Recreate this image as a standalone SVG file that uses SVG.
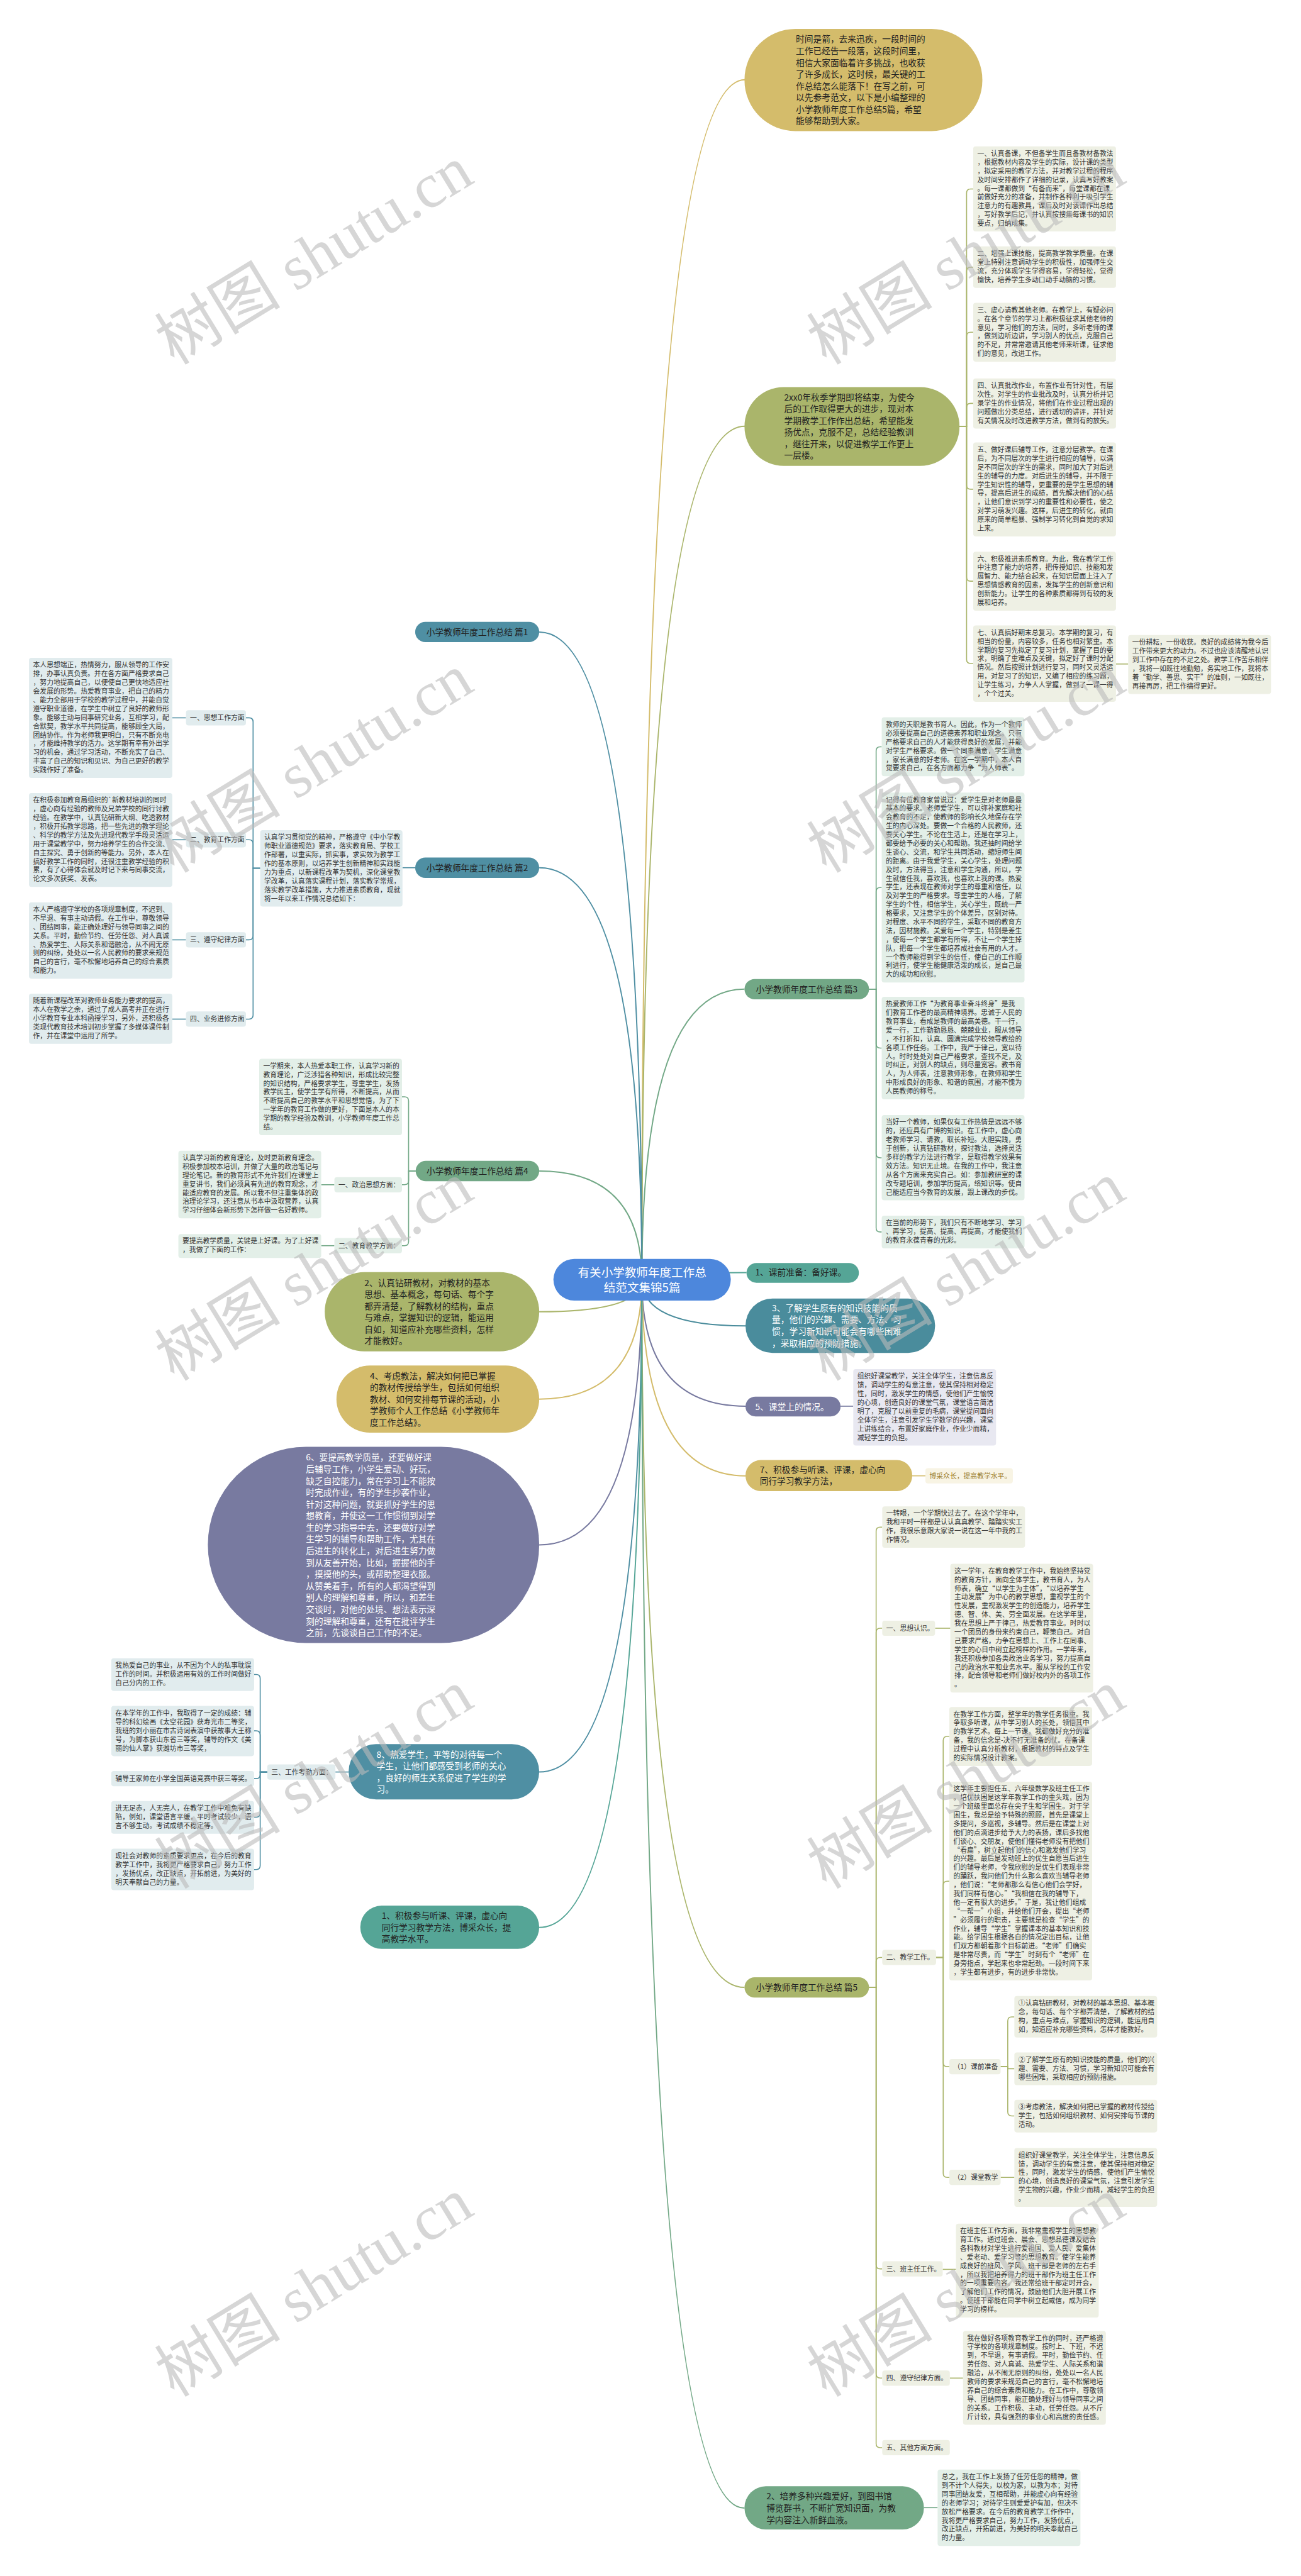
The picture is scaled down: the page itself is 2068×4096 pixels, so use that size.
<svg xmlns="http://www.w3.org/2000/svg" width="2068" height="4096" viewBox="0 0 2068 4096">
<style>
.t{font-family:"Noto Sans CJK SC","Noto Sans",sans-serif;font-size:13.4px;fill:#333}
.n{font-family:"Noto Sans CJK SC","Noto Sans",sans-serif;font-size:17px;fill:#222}
.w{fill:#fff}
.bo{fill:#EEF0E4}
.bg{fill:#E3EFE8}
.bb{fill:#E1ECEE}
.bp{fill:#E8E8F1}
.by{fill:#F8F4E4}
.l{fill:none;stroke-width:2}
.m{fill:none;stroke-width:2.5}
.c1{stroke:#D4BC6B}.c2{stroke:#AAB56B}.c3{stroke:#72A886}.c4{stroke:#4F8FA3}.c5{stroke:#55A596}.c6{stroke:#4A8C9C}.c7{stroke:#787AA0}
.wm{font-family:"Liberation Serif","Noto Sans CJK SC",serif;font-size:124px;fill:#bbb;opacity:.6}
</style>
<rect width="2068" height="4096" fill="#fff"/>
<g transform="scale(0.8078)">
<g id="connectors">
<path class="m c1" d="M1263 2519Q1263 157 1466 157"/>
<path class="m c2" d="M1263 2519Q1263 839 1466 839"/>
<path class="m c3" d="M1263 2519Q1263 1947 1465 1947"/>
<path class="m c5" d="M1263 2519Q1263 2505 1469 2505"/>
<path class="m c6" d="M1263 2519Q1263 2610 1467 2610"/>
<path class="m c7" d="M1263 2519Q1263 2768 1467 2768"/>
<path class="m c1" d="M1263 2519Q1263 2905 1467 2905"/>
<path class="m c2" d="M1263 2519Q1263 3912 1465 3912"/>
<path class="m c3" d="M1263 2519Q1263 4937 1465 4937"/>
<path class="m c4" d="M1263 2519Q1263 1244 1061 1244"/>
<path class="m c4" d="M1263 2519Q1263 1708 1061 1708"/>
<path class="m c3" d="M1263 2519Q1263 2305 1061 2305"/>
<path class="m c2" d="M1263 2519Q1263 2582 1061 2582"/>
<path class="m c1" d="M1263 2519Q1263 2754 1061 2754"/>
<path class="m c7" d="M1263 2519Q1263 3041 1061 3041"/>
<path class="m c4" d="M1263 2519Q1263 3488 1061 3488"/>
<path class="m c5" d="M1263 2519Q1263 3794 1061 3794"/>
<g class="l c2">
<path d="M1888 839H1902V380Q1902 372 1910 372H1915"/>
<path d="M1888 839H1902V534Q1902 526 1910 526H1915"/>
<path d="M1888 839H1902V662Q1902 654 1910 654H1915"/>
<path d="M1888 839H1902V802Q1902 794 1910 794H1915"/>
<path d="M1888 839H1902V955Q1902 963 1910 963H1915"/>
<path d="M1888 839H1902V1136Q1902 1144 1910 1144H1915"/>
<path d="M1888 839H1902V1298Q1902 1306 1910 1306H1915"/>
<path d="M2196 1307H2220"/>
<path d="M1710 3912H1724V3014Q1724 3006 1732 3006H1736"/>
<path d="M1710 3912H1724V3213Q1724 3205 1732 3205H1736"/>
<path d="M1710 3912H1724V3861Q1724 3853 1732 3853H1736"/>
<path d="M1710 3912H1724V4458Q1724 4466 1732 4466H1736"/>
<path d="M1710 3912H1724V4673Q1724 4681 1732 4681H1736"/>
<path d="M1710 3912H1724V4810Q1724 4818 1732 4818H1736"/>
<path d="M1840 3205H1870"/>
<path d="M1842 3853H1856V3426Q1856 3418 1864 3418H1868"/>
<path d="M1842 3853H1856V3711Q1856 3703 1864 3703H1868"/>
<path d="M1842 3853H1856V4060Q1856 4068 1864 4068H1868"/>
<path d="M1842 3853H1856V4278Q1856 4286 1864 4286H1868"/>
<path d="M1969 4068H1983V3978Q1983 3970 1991 3970H1996"/>
<path d="M1969 4068H1983V4072H1996"/>
<path d="M1969 4068H1983V4157Q1983 4165 1991 4165H1996"/>
<path d="M1969 4286H1996"/>
<path d="M1855 4467H1881"/>
<path d="M1869 4681H1895"/>
</g>
<g class="l c3">
<path d="M1710 1947H1724V1478Q1724 1470 1732 1470H1735"/>
<path d="M1710 1947H1724V1755Q1724 1747 1732 1747H1735"/>
<path d="M1710 1947H1724V2055Q1724 2063 1732 2063H1735"/>
<path d="M1710 1947H1724V2271Q1724 2279 1732 2279H1735"/>
<path d="M1710 1947H1724V2417Q1724 2425 1732 2425H1735"/>
<path d="M1818 4936H1845"/>
<path d="M818 2305H804V2167Q804 2159 796 2159H791"/>
<path d="M818 2305H804V2324Q804 2332 796 2332H791"/>
<path d="M818 2305H804V2444Q804 2452 796 2452H791"/>
<path d="M658 2332H632"/>
<path d="M658 2452H632"/>
</g>
<path class="l c7" d="M1654 2768H1679"/>
<path class="l c1" d="M1795 2905H1821"/>
<g class="l c4">
<path d="M817 1708H792"/>
<path d="M512 1709H498V1421Q498 1413 490 1413H484"/>
<path d="M512 1709H498V1661Q498 1653 490 1653H484"/>
<path d="M512 1709H498V1842Q498 1850 490 1850H484"/>
<path d="M512 1709H498V1998Q498 2006 490 2006H484"/>
<path d="M366 1413H339"/>
<path d="M366 1653H339"/>
<path d="M366 1850H339"/>
<path d="M366 2006H339"/>
<path d="M686 3488H660"/>
<path d="M526 3488H512V3304Q512 3296 504 3296H500"/>
<path d="M526 3488H512V3415Q512 3407 504 3407H500"/>
<path d="M526 3488H512V3493Q512 3501 504 3501H500"/>
<path d="M526 3488H512V3569Q512 3577 504 3577H500"/>
<path d="M526 3488H512V3672Q512 3680 504 3680H500"/>
</g>
</g>

<g id="center"><rect x="1089" y="2478" width="349" height="82" rx="41" fill="#4D87DC"/>
<text x="1263.5" y="2513" text-anchor="middle" style="font-family:'Noto Sans CJK SC',sans-serif;font-size:23px;fill:#fff"><tspan x="1263.5">有关小学教师年度工作总</tspan><tspan x="1263.5" dy="30">结范文集锦5篇</tspan></text></g>

<g id="intro"><rect x="1465" y="57" width="468" height="201" rx="100" fill="#D4BC6B"/>
<text class="n" x="1566" y="83.5"><tspan x="1566">时间是箭，去来迅疾，一段时间的</tspan><tspan x="1566" dy="23">工作已经告一段落，这段时间里，</tspan><tspan x="1566" dy="23">相信大家面临着许多挑战，也收获</tspan><tspan x="1566" dy="23">了许多成长，这时候，最关键的工</tspan><tspan x="1566" dy="23">作总结怎么能落下！在写之前，可</tspan><tspan x="1566" dy="23">以先参考范文，以下是小编整理的</tspan><tspan x="1566" dy="23">小学教师年度工作总结5篇，希望</tspan><tspan x="1566" dy="23">能够帮助到大家。</tspan></text></g>

<g id="autumn"><rect x="1465" y="762" width="423" height="155" rx="77" fill="#AAB56B"/>
<text class="n" x="1543" y="788"><tspan x="1543">2xx0年秋季学期即将结束，为使今</tspan><tspan x="1543" dy="23">后的工作取得更大的进步，现对本</tspan><tspan x="1543" dy="23">学期教学工作作出总结，希望能发</tspan><tspan x="1543" dy="23">扬优点，克服不足，总结经验教训</tspan><tspan x="1543" dy="23">，继往开来，以促进教学工作更上</tspan><tspan x="1543" dy="23">一层楼。</tspan></text></g>

<g id="r1"><rect class="bo" x="1915" y="288" width="281" height="167.6" rx="5"/>
<text class="t" x="1923" y="307"><tspan x="1923">一、认真备课，不但备学生而且备教材备教法</tspan><tspan x="1923" dy="17.2">，根据教材内容及学生的实际，设计课的类型</tspan><tspan x="1923" dy="17.2">，拟定采用的教学方法，并对教学过程的程序</tspan><tspan x="1923" dy="17.2">及时间安排都作了详细的记录，认真写好教案</tspan><tspan x="1923" dy="17.2">。每一课都做到“有备而来”，每堂课都在课</tspan><tspan x="1923" dy="17.2">前做好充分的准备，并制作各种利于吸引学生</tspan><tspan x="1923" dy="17.2">注意力的有趣教具，课后及时对该课作出总结</tspan><tspan x="1923" dy="17.2">，写好教学后记，并认真按搜集每课书的知识</tspan><tspan x="1923" dy="17.2">要点，归纳成集。</tspan></text></g>
<g id="r2"><rect class="bo" x="1915" y="485" width="281" height="81.6" rx="5"/>
<text class="t" x="1923" y="504"><tspan x="1923">二、增强上课技能，提高教学教学质量。在课</tspan><tspan x="1923" dy="17.2">堂上特别注意调动学生的积极性，加强师生交</tspan><tspan x="1923" dy="17.2">流，充分体现学生学得容易，学得轻松，觉得</tspan><tspan x="1923" dy="17.2">愉快，培养学生多动口动手动脑的习惯。</tspan></text></g>
<g id="r3"><rect class="bo" x="1915" y="596" width="281" height="116" rx="5"/>
<text class="t" x="1923" y="615"><tspan x="1923">三、虚心请教其他老师。在教学上，有疑必问</tspan><tspan x="1923" dy="17.2">。在各个章节的学习上都积极征求其他老师的</tspan><tspan x="1923" dy="17.2">意见，学习他们的方法，同时，多听老师的课</tspan><tspan x="1923" dy="17.2">，做到边听边讲，学习别人的优点，克服自己</tspan><tspan x="1923" dy="17.2">的不足，并常常邀请其他老师来听课，征求他</tspan><tspan x="1923" dy="17.2">们的意见，改进工作。</tspan></text></g>
<g id="r4"><rect class="bo" x="1915" y="745" width="281" height="98.8" rx="5"/>
<text class="t" x="1923" y="764"><tspan x="1923">四、认真批改作业，布置作业有针对性，有层</tspan><tspan x="1923" dy="17.2">次性。对学生的作业批改及时，认真分析并记</tspan><tspan x="1923" dy="17.2">录学生的作业情况，将他们在作业过程出现的</tspan><tspan x="1923" dy="17.2">问题做出分类总结，进行透切的讲评，并针对</tspan><tspan x="1923" dy="17.2">有关情况及时改进教学方法，做到有的放矢。</tspan></text></g>
<g id="r5"><rect class="bo" x="1915" y="871" width="281" height="184.8" rx="5"/>
<text class="t" x="1923" y="890"><tspan x="1923">五、做好课后辅导工作，注意分层教学。在课</tspan><tspan x="1923" dy="17.2">后，为不同层次的学生进行相应的辅导，以满</tspan><tspan x="1923" dy="17.2">足不同层次的学生的需求，同时加大了对后进</tspan><tspan x="1923" dy="17.2">生的辅导的力度。对后进生的辅导，并不限于</tspan><tspan x="1923" dy="17.2">学生知识性的辅导，更重要的是学生思想的辅</tspan><tspan x="1923" dy="17.2">导，提高后进生的成绩，首先解决他们的心结</tspan><tspan x="1923" dy="17.2">，让他们意识到学习的重要性和必要性，使之</tspan><tspan x="1923" dy="17.2">对学习萌发兴趣。这样，后进生的转化，就由</tspan><tspan x="1923" dy="17.2">原来的简单粗暴、强制学习转化到自觉的求知</tspan><tspan x="1923" dy="17.2">上来。</tspan></text></g>
<g id="r6"><rect class="bo" x="1915" y="1086" width="281" height="116" rx="5"/>
<text class="t" x="1923" y="1105"><tspan x="1923">六、积极推进素质教育。为此，我在教学工作</tspan><tspan x="1923" dy="17.2">中注意了能力的培养，把传授知识、技能和发</tspan><tspan x="1923" dy="17.2">展智力、能力结合起来，在知识层面上注入了</tspan><tspan x="1923" dy="17.2">思想情感教育的因素，发挥学生的创新意识和</tspan><tspan x="1923" dy="17.2">创新能力。让学生的各种素质都得到有较的发</tspan><tspan x="1923" dy="17.2">展和培养。</tspan></text></g>
<g id="r7"><rect class="bo" x="1915" y="1231" width="281" height="150.4" rx="5"/>
<text class="t" x="1923" y="1250"><tspan x="1923">七、认真搞好期末总复习。本学期的复习，有</tspan><tspan x="1923" dy="17.2">相当的份量，内容较多，任务也相对繁重。本</tspan><tspan x="1923" dy="17.2">学期的复习先拟定了复习计划，掌握了目的要</tspan><tspan x="1923" dy="17.2">求，明确了重难点及关键，拟定好了课时分配</tspan><tspan x="1923" dy="17.2">情况。然后按照计划进行复习，同时又灵活运</tspan><tspan x="1923" dy="17.2">用，对复习了的知识，又编了相应的练习题，</tspan><tspan x="1923" dy="17.2">让学生练习，力争人人掌握，做到了一课一得</tspan><tspan x="1923" dy="17.2">，个个过关。</tspan></text></g>
<g id="r8"><rect class="bo" x="2220" y="1250" width="281" height="116" rx="5"/>
<text class="t" x="2228" y="1269"><tspan x="2228">一份耕耘，一份收获。良好的成绩将为我今后</tspan><tspan x="2228" dy="17.2">工作带来更大的动力。不过也应该清醒地认识</tspan><tspan x="2228" dy="17.2">到工作中存在的不足之处。教学工作苦乐相伴</tspan><tspan x="2228" dy="17.2">，我将一如既往地勤勉，务实地工作，我将本</tspan><tspan x="2228" dy="17.2">着“勤学、善思、实干”的准则，一如既往，</tspan><tspan x="2228" dy="17.2">再接再厉，把工作搞得更好。</tspan></text></g>

<g id="p1"><rect x="817" y="1224" width="244" height="40" rx="20" fill="#4F8FA3"/><text class="n" x="939" y="1250" text-anchor="middle">小学教师年度工作总结 篇1</text></g>
<g id="p2"><rect x="817" y="1688" width="244" height="40" rx="20" fill="#4F8FA3"/><text class="n" x="939" y="1714" text-anchor="middle">小学教师年度工作总结 篇2</text></g>
<g id="p3"><rect x="1465" y="1927" width="245" height="40" rx="20" fill="#72A886"/><text class="n" x="1587.5" y="1953" text-anchor="middle">小学教师年度工作总结 篇3</text></g>
<g id="p4"><rect x="818" y="2285" width="243" height="40" rx="20" fill="#72A886"/><text class="n" x="939.5" y="2311" text-anchor="middle">小学教师年度工作总结 篇4</text></g>
<g id="p5"><rect x="1465" y="3892" width="245" height="40" rx="20" fill="#A9B56A"/><text class="n" x="1587.5" y="3918" text-anchor="middle">小学教师年度工作总结 篇5</text></g>

<g id="p2-intro"><rect class="bb" x="512" y="1634" width="280" height="150.4" rx="5"/>
<text class="t" x="520" y="1653"><tspan x="520">认真学习贯彻党的精神，严格遵守《中小学教</tspan><tspan x="520" dy="17.2">师职业道德规范》要求，落实教育局、学校工</tspan><tspan x="520" dy="17.2">作部署，以重实际，抓实事，求实效为教学工</tspan><tspan x="520" dy="17.2">作的基本原则，以培养学生创新精神和实践能</tspan><tspan x="520" dy="17.2">力为重点，以新课程改革为契机，深化课堂教</tspan><tspan x="520" dy="17.2">学改革，认真落实课程计划，落实教学常规，</tspan><tspan x="520" dy="17.2">落实教学改革措施，大力推进素质教育，现就</tspan><tspan x="520" dy="17.2">将一年以来工作情况总结如下：</tspan></text></g>
<g id="p2-l1"><rect class="bb" x="366" y="1398" width="118" height="30" rx="5"/><text class="t" x="374" y="1418">一、思想工作方面</text></g>
<g id="p2-l2"><rect class="bb" x="366" y="1638" width="118" height="30" rx="5"/><text class="t" x="374" y="1658">二、教育工作方面</text></g>
<g id="p2-l3"><rect class="bb" x="366" y="1835" width="118" height="30" rx="5"/><text class="t" x="374" y="1855">三、遵守纪律方面</text></g>
<g id="p2-l4"><rect class="bb" x="366" y="1991" width="118" height="30" rx="5"/><text class="t" x="374" y="2011">四、业务进修方面</text></g>
<g id="p2-b1"><rect class="bb" x="57" y="1295" width="282" height="236.4" rx="5"/>
<text class="t" x="65" y="1314"><tspan x="65">本人思想端正，热情努力，服从领导的工作安</tspan><tspan x="65" dy="17.2">排，办事认真负责。并在各方面严格要求自己</tspan><tspan x="65" dy="17.2">，努力地提高自己，以便使自己更快地适应社</tspan><tspan x="65" dy="17.2">会发展的形势。热爱教育事业，把自己的精力</tspan><tspan x="65" dy="17.2">、能力全部用于学校的教学过程中，并能自觉</tspan><tspan x="65" dy="17.2">遵守职业道德，在学生中树立了良好的教师形</tspan><tspan x="65" dy="17.2">象。能够主动与同事研究业务，互相学习，配</tspan><tspan x="65" dy="17.2">合默契，教学水平共同提高，能够顾全大局，</tspan><tspan x="65" dy="17.2">团结协作。作为老师我更明白，只有不断充电</tspan><tspan x="65" dy="17.2">，才能维持教学的活力。这学期有幸有外出学</tspan><tspan x="65" dy="17.2">习的机会，通过学习活动，不断充实了自己、</tspan><tspan x="65" dy="17.2">丰富了自己的知识和见识、为自己更好的教学</tspan><tspan x="65" dy="17.2">实践作好了准备。</tspan></text></g>
<g id="p2-b2"><rect class="bb" x="57" y="1561" width="282" height="184.8" rx="5"/>
<text class="t" x="65" y="1580"><tspan x="65">在积极参加教育局组织的`新教材培训的同时</tspan><tspan x="65" dy="17.2">，虚心向有经验的教师及兄弟学校的同行讨教</tspan><tspan x="65" dy="17.2">经验。在教学中，认真钻研新大纲、吃透教材</tspan><tspan x="65" dy="17.2">，积极开拓教学思路，把一些先进的教学理论</tspan><tspan x="65" dy="17.2">、科学的教学方法及先进现代教学手段灵活运</tspan><tspan x="65" dy="17.2">用于课堂教学中，努力培养学生的合作交流、</tspan><tspan x="65" dy="17.2">自主探究、勇于创新的等能力。另外，本人在</tspan><tspan x="65" dy="17.2">搞好教学工作的同时，还很注重教学经验的积</tspan><tspan x="65" dy="17.2">累，有了心得体会就及时记下来与同事交流，</tspan><tspan x="65" dy="17.2">论文多次获奖、发表。</tspan></text></g>
<g id="p2-b3"><rect class="bb" x="57" y="1776" width="282" height="150.4" rx="5"/>
<text class="t" x="65" y="1795"><tspan x="65">本人严格遵守学校的各项规章制度，不迟到、</tspan><tspan x="65" dy="17.2">不早退、有事主动请假。在工作中，尊敬领导</tspan><tspan x="65" dy="17.2">、团结同事，能正确处理好与领导同事之间的</tspan><tspan x="65" dy="17.2">关系。平时，勤俭节约、任劳任怨、对人真诚</tspan><tspan x="65" dy="17.2">、热爱学生、人际关系和谐融洽，从不闹无原</tspan><tspan x="65" dy="17.2">则的纠纷，处处以一名人民教师的要求来规范</tspan><tspan x="65" dy="17.2">自己的言行，毫不松懈地培养自己的综合素质</tspan><tspan x="65" dy="17.2">和能力。</tspan></text></g>
<g id="p2-b4"><rect class="bb" x="57" y="1956" width="282" height="98.8" rx="5"/>
<text class="t" x="65" y="1975"><tspan x="65">随着新课程改革对教师业务能力要求的提高，</tspan><tspan x="65" dy="17.2">本人在教学之余，通过了成人高考并正在进行</tspan><tspan x="65" dy="17.2">小学教育专业本科函授学习，另外，还积极各</tspan><tspan x="65" dy="17.2">类现代教育技术培训初步掌握了多媒体课件制</tspan><tspan x="65" dy="17.2">作，并在课堂中运用了所学。</tspan></text></g>

<g id="p3-b1"><rect class="bg" x="1735" y="1412" width="281" height="116" rx="5"/>
<text class="t" x="1743" y="1431"><tspan x="1743">教师的天职是教书育人。因此，作为一个教师</tspan><tspan x="1743" dy="17.2">必须要提高自己的道德素养和职业观念。只有</tspan><tspan x="1743" dy="17.2">严格要求自己的人才能获得良好的发展，并能</tspan><tspan x="1743" dy="17.2">对学生严格要求。做一个同事满意，学生满意</tspan><tspan x="1743" dy="17.2">，家长满意的好老师。在这一学期中，本人自</tspan><tspan x="1743" dy="17.2">觉要求自己，在各方面都力争“为人师表”。</tspan></text></g>
<g id="p3-b2"><rect class="bg" x="1735" y="1560" width="281" height="374" rx="5"/>
<text class="t" x="1743" y="1579"><tspan x="1743">记得有位教育家曾说过：爱学生是对老师最最</tspan><tspan x="1743" dy="17.2">基本的要求。老师爱学生，可以弥补家庭和社</tspan><tspan x="1743" dy="17.2">会教育的不足，使教师的影响长久地保存在学</tspan><tspan x="1743" dy="17.2">生的内心深处。要做一个合格的人民教师，还</tspan><tspan x="1743" dy="17.2">要关心学生。不论在生活上，还是在学习上，</tspan><tspan x="1743" dy="17.2">都要给予必要的关心和帮助。我还抽时间给学</tspan><tspan x="1743" dy="17.2">生谈心、交流，和学生共同活动，缩短师生间</tspan><tspan x="1743" dy="17.2">的距离。由于我爱学生，关心学生，处理问题</tspan><tspan x="1743" dy="17.2">及时，方法得当，注意和学生沟通，所以，学</tspan><tspan x="1743" dy="17.2">生就信任我，喜欢我，也喜欢上我的课。热爱</tspan><tspan x="1743" dy="17.2">学生，还表现在教师对学生的尊重和信任，以</tspan><tspan x="1743" dy="17.2">及对学生的严格要求。尊重学生的人格，了解</tspan><tspan x="1743" dy="17.2">学生的个性，相信学生，关心学生，既统一严</tspan><tspan x="1743" dy="17.2">格要求，又注意学生的个体差异，区别对待。</tspan><tspan x="1743" dy="17.2">对程度、水平不同的学生，采取不同的教育方</tspan><tspan x="1743" dy="17.2">法，因材施教。关爱每一个学生，特别是差生</tspan><tspan x="1743" dy="17.2">，使每一个学生都学有所得，不让一个学生掉</tspan><tspan x="1743" dy="17.2">队，把每一个学生都培养成社会有用的人才。</tspan><tspan x="1743" dy="17.2">一个教师能得到学生的信任，使自己的工作顺</tspan><tspan x="1743" dy="17.2">利进行，使学生能健康活泼的成长，是自己最</tspan><tspan x="1743" dy="17.2">大的成功和欣慰。</tspan></text></g>
<g id="p3-b3"><rect class="bg" x="1735" y="1962" width="281" height="202" rx="5"/>
<text class="t" x="1743" y="1981"><tspan x="1743">热爱教师工作“为教育事业奋斗终身”是我</tspan><tspan x="1743" dy="17.2">们教育工作者的最高精神境界。忠诚于人民的</tspan><tspan x="1743" dy="17.2">教育事业，看成是教师的最高美德。干一行，</tspan><tspan x="1743" dy="17.2">爱一行，工作勤勤恳恳、兢兢业业，服从领导</tspan><tspan x="1743" dy="17.2">，不打折扣，认真、圆满完成学校领导教给的</tspan><tspan x="1743" dy="17.2">各项工作任务。工作中，我严于律己，宽以待</tspan><tspan x="1743" dy="17.2">人。时时处处对自己严格要求，查找不足，及</tspan><tspan x="1743" dy="17.2">时纠正，对别人的缺点，则尽量宽容。教书育</tspan><tspan x="1743" dy="17.2">人，为人师表，注意教师形象，在教师和学生</tspan><tspan x="1743" dy="17.2">中形成良好的形象、和谐的氛围，才能不愧为</tspan><tspan x="1743" dy="17.2">人民教师的称号。</tspan></text></g>
<g id="p3-b4"><rect class="bg" x="1735" y="2195" width="281" height="167.6" rx="5"/>
<text class="t" x="1743" y="2214"><tspan x="1743">当好一个教师，如果仅有工作热情是远远不够</tspan><tspan x="1743" dy="17.2">的，还应具有广博的知识。在工作中，虚心向</tspan><tspan x="1743" dy="17.2">老教师学习、请教，取长补短。大胆实践，勇</tspan><tspan x="1743" dy="17.2">于创新，认真钻研教材，探讨教法，选择灵活</tspan><tspan x="1743" dy="17.2">多样的教学方法进行教学，是取得教学效果有</tspan><tspan x="1743" dy="17.2">效方法。知识无止境。在我的工作中，我注意</tspan><tspan x="1743" dy="17.2">从各个方面来充实自己。如：参加教研室的课</tspan><tspan x="1743" dy="17.2">改专题培训，参加学历提高，络知识等。使自</tspan><tspan x="1743" dy="17.2">己能适应当今教育的发展，跟上课改的步伐。</tspan></text></g>
<g id="p3-b5"><rect class="bg" x="1735" y="2393" width="281" height="64.4" rx="5"/>
<text class="t" x="1743" y="2412"><tspan x="1743">在当前的形势下，我们只有不断地学习、学习</tspan><tspan x="1743" dy="17.2">、再学习，提高、提高、再提高，才能使我们</tspan><tspan x="1743" dy="17.2">的教育永葆青春的光彩。</tspan></text></g>

<g id="k1"><rect x="1469" y="2486" width="221" height="39" rx="19.5" fill="#55A596"/><text class="n" x="1486" y="2511">1、课前准备：备好课。</text></g>
<g id="k3"><rect x="1467" y="2556" width="373" height="107" rx="53" fill="#4A8C9C"/>
<text class="n w" x="1519" y="2581"><tspan x="1519">3、了解学生原有的知识技能的质</tspan><tspan x="1519" dy="23">量，他们的兴趣、需要、方法、习</tspan><tspan x="1519" dy="23">惯，学习新知识可能会有哪些困难</tspan><tspan x="1519" dy="23">，采取相应的预防措施。</tspan></text></g>
<g id="k5"><rect x="1467" y="2749" width="187" height="39" rx="19.5" fill="#787AA0"/><text class="n w" x="1486" y="2775">5、课堂上的情况。</text></g>
<g id="k5-b"><rect class="bp" x="1679" y="2695" width="281" height="150.4" rx="5"/>
<text class="t" x="1687" y="2714"><tspan x="1687">组织好课堂教学，关注全体学生，注意信息反</tspan><tspan x="1687" dy="17.2">馈，调动学生的有意注意，使其保持相对稳定</tspan><tspan x="1687" dy="17.2">性，同时，激发学生的情感，使他们产生愉悦</tspan><tspan x="1687" dy="17.2">的心境，创造良好的课堂气氛，课堂语言简洁</tspan><tspan x="1687" dy="17.2">明了，克服了以前重复的毛病，课堂提问面向</tspan><tspan x="1687" dy="17.2">全体学生，注意引发学生学数学的兴趣，课堂</tspan><tspan x="1687" dy="17.2">上讲练结合，布置好家庭作业，作业少而精，</tspan><tspan x="1687" dy="17.2">减轻学生的负担。</tspan></text></g>
<g id="k7"><rect x="1467" y="2874" width="328" height="61" rx="30" fill="#D4BC6B"/>
<text class="n" x="1495" y="2899"><tspan x="1495">7、积极参与听课、评课，虚心向</tspan><tspan x="1495" dy="23">同行学习教学方法，</tspan></text></g>
<g id="k7-b"><rect class="by" x="1821" y="2890" width="172" height="30" rx="5"/><text class="t" x="1829" y="2910" style="fill:#9C8030">博采众长，提高教学水平。</text></g>

<g id="p5-b0"><rect class="bo" x="1736" y="2965" width="281" height="81.6" rx="5"/>
<text class="t" x="1744" y="2984"><tspan x="1744">一转眼，一个学期快过去了。在这个学年中，</tspan><tspan x="1744" dy="17.2">我和平时一样都是认认真真教学、踏踏实实工</tspan><tspan x="1744" dy="17.2">作，我很乐意跟大家说一说在这一年中我的工</tspan><tspan x="1744" dy="17.2">作情况。</tspan></text></g>
<g id="p5-l1"><rect class="bo" x="1736" y="3190" width="104" height="30" rx="5"/><text class="t" x="1744" y="3210">一、思想认识。</text></g>
<g id="p5-b1"><rect class="bo" x="1870" y="3078" width="281" height="253.6" rx="5"/>
<text class="t" x="1878" y="3097"><tspan x="1878">这一学年，在教育教学工作中，我始终坚持党</tspan><tspan x="1878" dy="17.2">的教育方针，面向全体学生，教书育人，为人</tspan><tspan x="1878" dy="17.2">师表，确立“以学生为主体”，“以培养学生</tspan><tspan x="1878" dy="17.2">主动发展”为中心的教学思想，重视学生的个</tspan><tspan x="1878" dy="17.2">性发展，重视激发学生的创造能力，培养学生</tspan><tspan x="1878" dy="17.2">德、智、体、美、劳全面发展。在这学年里，</tspan><tspan x="1878" dy="17.2">我在思想上严于律己，热爱教育事业。时时以</tspan><tspan x="1878" dy="17.2">一个团员的身份来约束自己，鞭策自己。对自</tspan><tspan x="1878" dy="17.2">己要求严格，力争在思想上、工作上在同事、</tspan><tspan x="1878" dy="17.2">学生的心目中树立起榜样的作用。一学年来，</tspan><tspan x="1878" dy="17.2">我还积极参加各类政治业务学习，努力提高自</tspan><tspan x="1878" dy="17.2">己的政治水平和业务水平。服从学校的工作安</tspan><tspan x="1878" dy="17.2">排，配合领导和老师们做好校内外的各项工作</tspan><tspan x="1878" dy="17.2">。</tspan></text></g>
<g id="p5-l2"><rect class="bo" x="1736" y="3838" width="106" height="30" rx="5"/><text class="t" x="1744" y="3858">二、教学工作。</text></g>
<g id="p5-b2"><rect class="bo" x="1868" y="3360" width="281" height="116" rx="5"/>
<text class="t" x="1876" y="3379"><tspan x="1876">在教学工作方面，整学年的教学任务很重。我</tspan><tspan x="1876" dy="17.2">争取多听课，从中学习别人的长处，领悟其中</tspan><tspan x="1876" dy="17.2">的教学艺术。每上一节课，我都做好充分的准</tspan><tspan x="1876" dy="17.2">备，我的信念是-决不打无准备的仗。在备课</tspan><tspan x="1876" dy="17.2">过程中认真分析教材，根据教材的特点及学生</tspan><tspan x="1876" dy="17.2">的实际情况设计教案。</tspan></text></g>
<g id="p5-b3"><rect class="bo" x="1868" y="3507" width="281" height="391.2" rx="5"/>
<text class="t" x="1876" y="3526"><tspan x="1876">这学年主要担任五、六年级数学及班主任工作</tspan><tspan x="1876" dy="17.2">。培优扶困是这学年教学工作的重头戏，因为</tspan><tspan x="1876" dy="17.2">一个班级里面总存在尖子生和学困生。对于学</tspan><tspan x="1876" dy="17.2">困生，我总是给予特殊的照顾，首先是课堂上</tspan><tspan x="1876" dy="17.2">多提问，多巡视，多辅导。然后是在课堂上对</tspan><tspan x="1876" dy="17.2">他们的点滴进步给予大力的表扬，课后多找他</tspan><tspan x="1876" dy="17.2">们谈心、交朋友，使他们懂得老师没有把他们</tspan><tspan x="1876" dy="17.2">“看扁”，树立起他们的信心和激发他们学习</tspan><tspan x="1876" dy="17.2">的兴趣。最后是发动班上的优生自愿当后进生</tspan><tspan x="1876" dy="17.2">们的辅导老师，令我欣慰的是优生们表现非常</tspan><tspan x="1876" dy="17.2">的踊跃，我问他们为什么那么喜欢当辅导老师</tspan><tspan x="1876" dy="17.2">，他们说：“老师都那么有信心他们会学好，</tspan><tspan x="1876" dy="17.2">我们同样有信心。”“我相信在我的辅导下，</tspan><tspan x="1876" dy="17.2">他一定有很大的进步。”于是，我让他们组成</tspan><tspan x="1876" dy="17.2">“一帮一”小组，并给他们开会，提出“老师</tspan><tspan x="1876" dy="17.2">”必须履行的职责，主要就是检查“学生”的</tspan><tspan x="1876" dy="17.2">作业，辅导“学生”掌握课本的基本知识和技</tspan><tspan x="1876" dy="17.2">能。给学困生根据各自的情况定出目标，让他</tspan><tspan x="1876" dy="17.2">们双方都朝着那个目标前进。“老师”们确实</tspan><tspan x="1876" dy="17.2">是非常尽责，而“学生”时刻有个“老师”在</tspan><tspan x="1876" dy="17.2">身旁指点，学起来也非常起劲。一段时间下来</tspan><tspan x="1876" dy="17.2">，学生都有进步，有的进步非常快。</tspan></text></g>
<g id="p5-l21"><rect class="bo" x="1868" y="4053" width="101" height="30" rx="5"/><text class="t" x="1876" y="4073">（1）课前准备</text></g>
<g id="p5-c1"><rect class="bo" x="1996" y="3929" width="281" height="81.6" rx="5"/>
<text class="t" x="2004" y="3948"><tspan x="2004">①认真钻研教材，对教材的基本思想、基本概</tspan><tspan x="2004" dy="17.2">念，每句话、每个字都弄清楚，了解教材的结</tspan><tspan x="2004" dy="17.2">构，重点与难点，掌握知识的逻辑，能运用自</tspan><tspan x="2004" dy="17.2">如，知道应补充哪些资料，怎样才能教好。</tspan></text></g>
<g id="p5-c2"><rect class="bo" x="1996" y="4040" width="281" height="64.4" rx="5"/>
<text class="t" x="2004" y="4059"><tspan x="2004">②了解学生原有的知识技能的质量，他们的兴</tspan><tspan x="2004" dy="17.2">趣、需要、方法、习惯，学习新知识可能会有</tspan><tspan x="2004" dy="17.2">哪些困难，采取相应的预防措施。</tspan></text></g>
<g id="p5-c3"><rect class="bo" x="1996" y="4133" width="281" height="64.4" rx="5"/>
<text class="t" x="2004" y="4152"><tspan x="2004">③考虑教法，解决如何把已掌握的教材传授给</tspan><tspan x="2004" dy="17.2">学生，包括如何组织教材、如何安排每节课的</tspan><tspan x="2004" dy="17.2">活动。</tspan></text></g>
<g id="p5-l22"><rect class="bo" x="1868" y="4271" width="101" height="30" rx="5"/><text class="t" x="1876" y="4291">（2）课堂教学</text></g>
<g id="p5-c4"><rect class="bo" x="1996" y="4228" width="281" height="116" rx="5"/>
<text class="t" x="2004" y="4247"><tspan x="2004">组织好课堂教学，关注全体学生，注意信息反</tspan><tspan x="2004" dy="17.2">馈，调动学生的有意注意，使其保持相对稳定</tspan><tspan x="2004" dy="17.2">性，同时，激发学生的情感，使他们产生愉悦</tspan><tspan x="2004" dy="17.2">的心境，创造良好的课堂气氛，注意引发学生</tspan><tspan x="2004" dy="17.2">学生物的兴趣，作业少而精，减轻学生的负担</tspan><tspan x="2004" dy="17.2">。</tspan></text></g>
<g id="p5-l3"><rect class="bo" x="1736" y="4451" width="119" height="30" rx="5"/><text class="t" x="1744" y="4471">三、班主任工作。</text></g>
<g id="p5-b4"><rect class="bo" x="1881" y="4377" width="281" height="184.8" rx="5"/>
<text class="t" x="1889" y="4396"><tspan x="1889">在班主任工作方面，我非常重视学生的思想教</tspan><tspan x="1889" dy="17.2">育工作。通过班会、晨会、思想品德课及结合</tspan><tspan x="1889" dy="17.2">各科教材对学生进行爱祖国、爱人民、爱集体</tspan><tspan x="1889" dy="17.2">、爱老动、爱学习等的思想教育。使学生能养</tspan><tspan x="1889" dy="17.2">成良好的班风、学风。班干部是老师的左右手</tspan><tspan x="1889" dy="17.2">，所以我把培养得力的班干部作为班主任工作</tspan><tspan x="1889" dy="17.2">的一项重要内容。我还常给班干部定时开会，</tspan><tspan x="1889" dy="17.2">了解他们工作的情况，鼓励他们大胆开展工作</tspan><tspan x="1889" dy="17.2">。使班干部能在同学中树立起威信，成为同学</tspan><tspan x="1889" dy="17.2">学习的榜样。</tspan></text></g>
<g id="p5-l4"><rect class="bo" x="1736" y="4666" width="133" height="30" rx="5"/><text class="t" x="1744" y="4686">四、遵守纪律方面。</text></g>
<g id="p5-b5"><rect class="bo" x="1895" y="4588" width="281" height="184.8" rx="5"/>
<text class="t" x="1903" y="4607"><tspan x="1903">我在做好各项教育教学工作的同时，还严格遵</tspan><tspan x="1903" dy="17.2">守学校的各项规章制度。按时上、下班，不迟</tspan><tspan x="1903" dy="17.2">到，不早退，有事请假。平时，勤俭节约、任</tspan><tspan x="1903" dy="17.2">劳任怨、对人真诚、热爱学生、人际关系和谐</tspan><tspan x="1903" dy="17.2">融洽，从不闹无原则的纠纷，处处以一名人民</tspan><tspan x="1903" dy="17.2">教师的要求来规范自己的言行，毫不松懈地培</tspan><tspan x="1903" dy="17.2">养自己的综合素质和能力。在工作中，尊敬领</tspan><tspan x="1903" dy="17.2">导、团结同事，能正确处理好与领导同事之间</tspan><tspan x="1903" dy="17.2">的关系。工作积极、主动，任劳任怨。从不斤</tspan><tspan x="1903" dy="17.2">斤计较，具有强烈的事业心和高度的责任感。</tspan></text></g>
<g id="p5-l5"><rect class="bo" x="1736" y="4803" width="133" height="30" rx="5"/><text class="t" x="1744" y="4823">五、其他方面方面。</text></g>

<g id="k2r"><rect x="1465" y="4894" width="353" height="85" rx="42" fill="#72A886"/>
<text class="n" x="1508" y="4920"><tspan x="1508">2、培养多种兴趣爱好，到图书馆</tspan><tspan x="1508" dy="23">博览群书，不断扩宽知识面，为教</tspan><tspan x="1508" dy="23">学内容注入新鲜血液。</tspan></text></g>
<g id="k2r-b"><rect class="bg" x="1845" y="4861" width="281" height="150.4" rx="5"/>
<text class="t" x="1853" y="4880"><tspan x="1853">总之，我在工作上发扬了任劳任怨的精神，做</tspan><tspan x="1853" dy="17.2">到不计个人得失，以校为家，以教为本；对待</tspan><tspan x="1853" dy="17.2">同事团结友爱，互相帮助，并能虚心向有经验</tspan><tspan x="1853" dy="17.2">的老师学习；对待学生则爱爱护有加，但决不</tspan><tspan x="1853" dy="17.2">放松严格要求。在今后的教育教学工作作中，</tspan><tspan x="1853" dy="17.2">我将更严格要求自己，努力工作，发扬优点，</tspan><tspan x="1853" dy="17.2">改正缺点，开拓前进，为美好的明天奉献自己</tspan><tspan x="1853" dy="17.2">的力量。</tspan></text></g>

<g id="p4-b0"><rect class="bg" x="510" y="2084" width="281" height="150.4" rx="5"/>
<text class="t" x="518" y="2103"><tspan x="518">一学期来，本人热爱本职工作，认真学习新的</tspan><tspan x="518" dy="17.2">教育理论，广泛涉猎各种知识，形成比较完整</tspan><tspan x="518" dy="17.2">的知识结构，严格要求学生，尊重学生，发扬</tspan><tspan x="518" dy="17.2">教学民主，使学生学有所得，不断提高，从而</tspan><tspan x="518" dy="17.2">不断提高自己的教学水平和思想觉悟，为了下</tspan><tspan x="518" dy="17.2">一学年的教育工作做的更好，下面是本人的本</tspan><tspan x="518" dy="17.2">学期的教学经验及教训，小学教师年度工作总</tspan><tspan x="518" dy="17.2">结。</tspan></text></g>
<g id="p4-l1"><rect class="bg" x="658" y="2317" width="133" height="30" rx="5"/><text class="t" x="666" y="2337">一、政治思想方面：</text></g>
<g id="p4-b1"><rect class="bg" x="351" y="2265" width="281" height="133.2" rx="5"/>
<text class="t" x="359" y="2284"><tspan x="359">认真学习新的教育理论，及时更新教育理念。</tspan><tspan x="359" dy="17.2">积极参加校本培训，并做了大量的政治笔记与</tspan><tspan x="359" dy="17.2">理论笔记。新的教育形式不允许我们在课堂上</tspan><tspan x="359" dy="17.2">重复讲书，我们必须具有先进的教育观念，才</tspan><tspan x="359" dy="17.2">能适应教育的发展。所以我不但注重集体的政</tspan><tspan x="359" dy="17.2">治理论学习，还注意从书本中汲取营养，认真</tspan><tspan x="359" dy="17.2">学习仔细体会新形势下怎样做一名好教师。</tspan></text></g>
<g id="p4-l2"><rect class="bg" x="658" y="2437" width="133" height="30" rx="5"/><text class="t" x="666" y="2457">二、教育教学方面：</text></g>
<g id="p4-b2"><rect class="bg" x="351" y="2429" width="281" height="47.2" rx="5"/>
<text class="t" x="359" y="2448"><tspan x="359">要提高教学质量，关键是上好课。为了上好课</tspan><tspan x="359" dy="17.2">，我做了下面的工作：</tspan></text></g>

<g id="k2"><rect x="639" y="2504" width="422" height="156" rx="78" fill="#AAB56B"/>
<text class="n" x="717" y="2531"><tspan x="717">2、认真钻研教材，对教材的基本</tspan><tspan x="717" dy="23">思想、基本概念，每句话、每个字</tspan><tspan x="717" dy="23">都弄清楚，了解教材的结构，重点</tspan><tspan x="717" dy="23">与难点，掌握知识的逻辑，能运用</tspan><tspan x="717" dy="23">自如，知道应补充哪些资料，怎样</tspan><tspan x="717" dy="23">才能教好。</tspan></text></g>
<g id="k4"><rect x="662" y="2688" width="399" height="132" rx="66" fill="#D4BC6B"/>
<text class="n" x="728" y="2714.5"><tspan x="728">4、考虑教法，解决如何把已掌握</tspan><tspan x="728" dy="23">的教材传授给学生，包括如何组织</tspan><tspan x="728" dy="23">教材、如何安排每节课的活动，小</tspan><tspan x="728" dy="23">学教师个人工作总结《小学教师年</tspan><tspan x="728" dy="23">度工作总结》。</tspan></text></g>
<g id="k6"><rect x="409" y="2848" width="652" height="386" rx="193" fill="#787AA0"/>
<text class="n w" x="602" y="2875"><tspan x="602">6、要提高教学质量，还要做好课</tspan><tspan x="602" dy="23">后辅导工作，小学生爱动、好玩，</tspan><tspan x="602" dy="23">缺乏自控能力，常在学习上不能按</tspan><tspan x="602" dy="23">时完成作业，有的学生抄袭作业，</tspan><tspan x="602" dy="23">针对这种问题，就要抓好学生的思</tspan><tspan x="602" dy="23">想教育，并使这一工作惯彻到对学</tspan><tspan x="602" dy="23">生的学习指导中去，还要做好对学</tspan><tspan x="602" dy="23">生学习的辅导和帮助工作，尤其在</tspan><tspan x="602" dy="23">后进生的转化上，对后进生努力做</tspan><tspan x="602" dy="23">到从友善开始，比如，握握他的手</tspan><tspan x="602" dy="23">，摸摸他的头，或帮助整理衣服。</tspan><tspan x="602" dy="23">从赞美着手，所有的人都渴望得到</tspan><tspan x="602" dy="23">别人的理解和尊重，所以，和差生</tspan><tspan x="602" dy="23">交谈时，对他的处境、想法表示深</tspan><tspan x="602" dy="23">刻的理解和尊重，还有在批评学生</tspan><tspan x="602" dy="23">之前，先谈谈自己工作的不足。</tspan></text></g>
<g id="k8"><rect x="686" y="3433" width="375" height="109" rx="54" fill="#4F8FA3"/>
<text class="n w" x="741" y="3459.5"><tspan x="741">8、热爱学生，平等的对待每一个</tspan><tspan x="741" dy="23">学生，让他们都感受到老师的关心</tspan><tspan x="741" dy="23">，良好的师生关系促进了学生的学</tspan><tspan x="741" dy="23">习。</tspan></text></g>
<g id="k8-l"><rect class="bb" x="526" y="3473" width="134" height="30" rx="5"/><text class="t" x="534" y="3493">三、工作考勤方面：</text></g>
<g id="k8-b1"><rect class="bb" x="219" y="3264" width="281" height="64.4" rx="5"/>
<text class="t" x="227" y="3283"><tspan x="227">我热爱自己的事业，从不因为个人的私事耽误</tspan><tspan x="227" dy="17.2">工作的时间。并积极运用有效的工作时间做好</tspan><tspan x="227" dy="17.2">自己分内的工作。</tspan></text></g>
<g id="k8-b2"><rect class="bb" x="219" y="3358" width="281" height="98.8" rx="5"/>
<text class="t" x="227" y="3377"><tspan x="227">在本学年的工作中，我取得了一定的成绩：辅</tspan><tspan x="227" dy="17.2">导的科幻绘画《太空花园》获寿光市二等奖，</tspan><tspan x="227" dy="17.2">我班的刘小丽在市古诗词表演中获故事大王称</tspan><tspan x="227" dy="17.2">号，为脚本获山东省三等奖，辅导的作文《美</tspan><tspan x="227" dy="17.2">丽的仙人掌》获潍坊市三等奖，</tspan></text></g>
<g id="k8-b3"><rect class="bb" x="219" y="3486" width="281" height="30" rx="5"/><text class="t" x="227" y="3506">辅导王家帅在小学全国英语竞赛中获三等奖。</text></g>
<g id="k8-b4"><rect class="bb" x="219" y="3545" width="281" height="64.4" rx="5"/>
<text class="t" x="227" y="3564"><tspan x="227">进无足赤，人无完人，在教学工作中难免有缺</tspan><tspan x="227" dy="17.2">陷，例如，课堂语言平缓，平时考试较少，语</tspan><tspan x="227" dy="17.2">言不够生动。考试成绩不稳定等。</tspan></text></g>
<g id="k8-b5"><rect class="bb" x="219" y="3639" width="281" height="81.6" rx="5"/>
<text class="t" x="227" y="3658"><tspan x="227">现社会对教师的素质要求更高，在今后的教育</tspan><tspan x="227" dy="17.2">教学工作中，我将更严格要求自己，努力工作</tspan><tspan x="227" dy="17.2">，发扬优点，改正缺点，开拓前进，为美好的</tspan><tspan x="227" dy="17.2">明天奉献自己的力量。</tspan></text></g>
<g id="k1l"><rect x="709" y="3751" width="352" height="85" rx="42" fill="#55A596"/>
<text class="n" x="751" y="3777"><tspan x="751">1、积极参与听课、评课，虚心向</tspan><tspan x="751" dy="23">同行学习教学方法，博采众长，提</tspan><tspan x="751" dy="23">高教学水平。</tspan></text></g>

<g id="watermarks">
<text class="wm" transform="translate(343 720) rotate(-31.4)">树图 shutu.cn</text>
<text class="wm" transform="translate(1626 720) rotate(-31.4)">树图 shutu.cn</text>
<text class="wm" transform="translate(343 1720) rotate(-31.4)">树图 shutu.cn</text>
<text class="wm" transform="translate(1626 1720) rotate(-31.4)">树图 shutu.cn</text>
<text class="wm" transform="translate(343 2720) rotate(-31.4)">树图 shutu.cn</text>
<text class="wm" transform="translate(1626 2720) rotate(-31.4)">树图 shutu.cn</text>
<text class="wm" transform="translate(343 3720) rotate(-31.4)">树图 shutu.cn</text>
<text class="wm" transform="translate(1626 3720) rotate(-31.4)">树图 shutu.cn</text>
<text class="wm" transform="translate(343 4720) rotate(-31.4)">树图 shutu.cn</text>
<text class="wm" transform="translate(1626 4720) rotate(-31.4)">树图 shutu.cn</text>
</g>
</g>
</svg>
